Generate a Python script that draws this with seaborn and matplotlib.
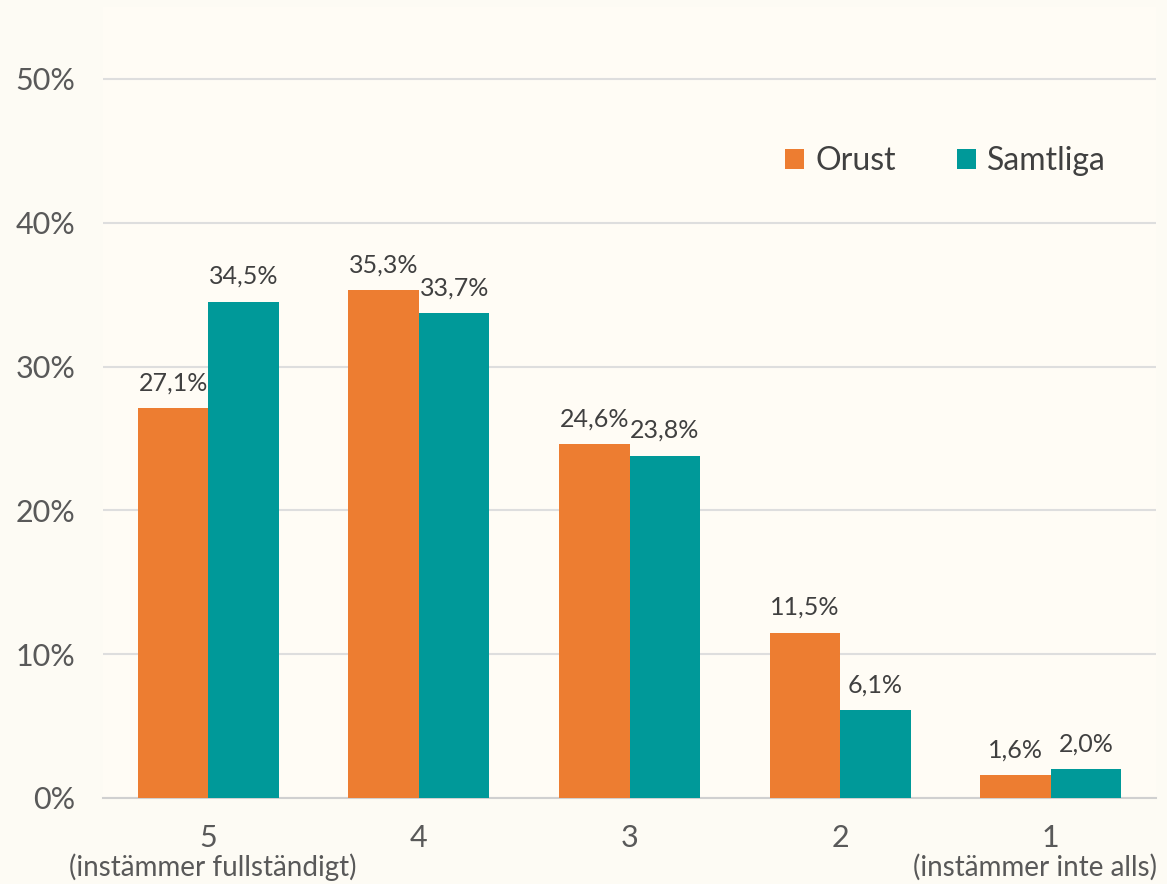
import matplotlib
matplotlib.use("Agg")
import matplotlib.pyplot as plt
import seaborn as sns
import pandas as pd

# Survey answers: share per response level
categories = ["5", "4", "3", "2", "1"]
sublabels = ["(instämmer fullständigt)", "", "", "", "(instämmer inte alls)"]
orust = [27.1, 35.3, 24.6, 11.5, 1.6]
samtliga = [34.5, 33.7, 23.8, 6.1, 2.0]
series_names = ["Orust", "Samtliga"]
yticks = [0, 10, 20, 30, 40, 50]

colors = ["#ED7D31", "#009999"]
bg_fig = "#FDFBF4"
bg_ax = "#FFFCF5"
text_grey = "#595959"
label_grey = "#404040"

sns.set_theme(style="white")
plt.rcParams["font.family"] = ["Lato", "DejaVu Sans"]

df = pd.DataFrame({
    "Svar": categories * 2,
    "Andel": orust + samtliga,
    "Grupp": [series_names[0]] * len(categories) + [series_names[1]] * len(categories),
})

fig = plt.figure(figsize=(11.67, 8.84), dpi=100, facecolor=bg_fig)
ax = fig.add_axes([0.0883, 0.0973, 0.9023, 0.8947])
ax.set_facecolor(bg_ax)

sns.barplot(data=df, x="Svar", y="Andel", hue="Grupp", order=categories,
            hue_order=series_names, palette=colors, width=0.67,
            saturation=1, edgecolor="none", linewidth=0, ax=ax, zorder=3)

ax.set_xlim(-0.5, len(categories) - 0.5)
ax.set_ylim(0, 55)
ax.set_yticks(yticks)
ax.set_yticklabels([f"{v}%" for v in yticks], fontsize=22, color=text_grey)
ax.tick_params(axis="y", length=0, pad=20)
ax.grid(axis="y", color="#DEDEDE", linewidth=1.5, zorder=0)
ax.set_axisbelow(True)

# category boundaries as tick marks, labels drawn as text
ax.set_xticks([i - 0.5 for i in range(len(categories) + 1)])
ax.set_xticklabels([])
ax.tick_params(axis="x", length=7, width=1.5, color="#D0D0D0", direction="out")
for s in ["top", "right", "left"]:
    ax.spines[s].set_visible(False)
ax.spines["bottom"].set_color("#D0D0D0")
ax.spines["bottom"].set_linewidth(1.5)

for i, (c, sub) in enumerate(zip(categories, sublabels)):
    ax.annotate(c, xy=(i, 0), xycoords=("data", "axes fraction"),
                xytext=(0, -29), textcoords="offset points",
                ha="center", va="center", fontsize=22, color=text_grey)
    if sub:
        dx = -11 if i == len(categories) - 1 else 3
        ax.annotate(sub, xy=(i, 0), xycoords=("data", "axes fraction"),
                    xytext=(dx, -50), textcoords="offset points",
                    ha="center", va="center", fontsize=20, color=text_grey)

for cont in ax.containers:
    ax.bar_label(cont, labels=[f"{v:.1f}%".replace(".", ",") for v in cont.datavalues],
                 padding=10, fontsize=18, color=label_grey)

ax.set_xlabel("")
ax.set_ylabel("")
leg = ax.legend(loc="center", bbox_to_anchor=(0.80, 0.805), ncol=2, frameon=False,
                fontsize=23, handlelength=0.6, handleheight=0.6,
                handletextpad=0.35, columnspacing=1.9)
for t in leg.get_texts():
    t.set_color(label_grey)

fig.savefig("out.png", dpi=100, facecolor=bg_fig)
